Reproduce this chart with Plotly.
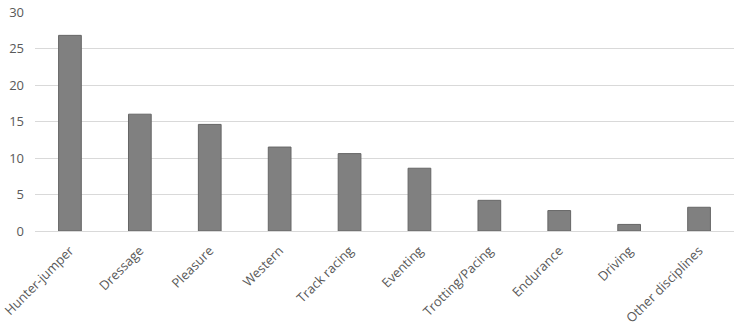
import plotly.graph_objects as go

categories = ["Hunter-jumper", "Dressage", "Pleasure", "Western", "Track racing",
              "Eventing", "Trotting/Pacing", "Endurance", "Driving", "Other disciplines"]
values = [26.8, 16.0, 14.6, 11.5, 10.6, 8.6, 4.2, 2.8, 0.9, 3.25]
y_ticks = [0, 5, 10, 15, 20, 25, 30]

fig = go.Figure(go.Bar(
    x=categories, y=values,
    marker=dict(color="#808080", line=dict(color="#666666", width=1)),
))
fig.update_layout(
    width=743, height=326,
    margin=dict(l=35, r=9, t=12, b=95),
    paper_bgcolor="white", plot_bgcolor="white",
    bargap=0.675,
    showlegend=False,
    font=dict(family="Open Sans", size=13, color="#595959"),
)
fig.update_xaxes(tickangle=-45, showgrid=False, showline=True, linecolor="#d9d9d9",
                 linewidth=1, ticks="", automargin=False, ticklabelstandoff=6,
                 tickfont=dict(size=13, color="#595959"))
fig.update_yaxes(range=[0, 30], tickvals=y_ticks, showgrid=True, gridcolor="#d9d9d9",
                 gridwidth=1, zeroline=False, showline=False, ticks="", automargin=False,
                 tickfont=dict(size=13, color="#595959"), ticklabelstandoff=10)
fig.write_html("out.html", config={"displayModeBar": False},
               post_script="document.body.style.margin='0';document.body.style.overflow='hidden';")
